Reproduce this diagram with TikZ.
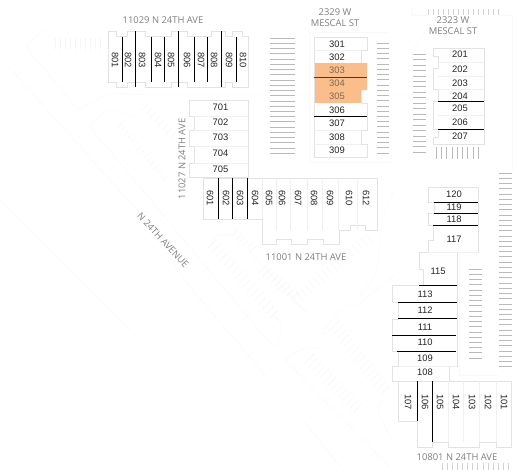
\documentclass[tikz,border=0pt]{standalone}
\usepackage{fontspec}
\setmainfont{Liberation Sans}
\newfontfamily\addrfont{Open Sans}
\newcommand{\lotstrip}[7]{%
  \foreach \i in {0,...,#5}{
    \pgfmathsetmacro{\px}{#1+(#3-#1)*\i/#5}
    \pgfmathsetmacro{\py}{#2+(#4-#2)*\i/#5}
    \draw[faintb] (\px,\py) -- +(#6,#7);
  }%
}
\tikzset{
  unitline/.style={draw=black!11,line width=0.6pt},
  unit/.style={font=\fontsize{9.4}{10}\selectfont,text=black!85,inner sep=0pt},
  vunit/.style={unit,rotate=-90},
  addr/.style={font=\addrfont\fontsize{9.4}{10}\selectfont,text=black!50,inner sep=0pt},
  sep/.style={draw=black,line width=0.7pt},
  lightsep/.style={draw=black!6,line width=0.5pt},
  hatch/.style={draw=black!27,line width=0.5pt},
  faint/.style={draw=black!2.5,line width=0.4pt},
  faintb/.style={draw=black!3.5,line width=0.4pt},
}
\begin{document}
\begin{tikzpicture}[x=1pt,y=-1pt]
\useasboundingbox (0,0) rectangle (518,474);
\fill[white] (0,0) rectangle (518,474);
% faint site lines
\draw[faint] (43,30) -- (26,47) -- (78,110) -- (110,93) -- (153,95) -- (470,95);
\draw[faint] (7,65) -- (137,210) -- (190,287) -- (267,377);
\draw[faint] (0,200) -- (130,330);
\draw[faint] (217,280) -- (273,347) .. controls (285,335) and (285,325) .. (273,315);
\draw[faint] (90,127) .. controls (98,118) and (105,110) .. (113,110) -- (133,117);
\draw[faint] (90,127) -- (217,280);
\draw[faint] (285,360) -- (390,467);
\draw[faint] (285,360) .. controls (295,350) and (305,347) .. (320,348);
\draw[faint] (303,420) -- (343,470);
\draw[faint] (323,330) -- (347,305) -- (357,305) -- (395,275);
\draw[faint] (323,330) .. controls (322,335) and (324,335) .. (330,330);
\draw[faint] (383,400) -- (378,405) -- (380,417) -- (392,440);
\draw[faint] (248,250) -- (307,313) -- (292,300) -- (303,290);
\draw[faint] (208,248) -- (218,235) -- (235,234);
\draw[faint] (395,190) .. controls (365,240) and (395,260) .. (360,295);
\draw[faint] (309,162) -- (309,32) -- (389,32);
\draw[faint] (309,162) -- (389,162);
\draw[faint] (412,50) -- (425,33);
\draw[faint] (412,8) -- (412,15) -- (428,15);
\draw[faint] (500,15) -- (512,15) -- (512,170);
\draw[faint] (459,252) -- (459,375) -- (498,375);
\lotstrip{122}{123}{167}{177}{14}{-4}{4}
\lotstrip{147}{105}{175}{133}{7}{-5}{5}
\lotstrip{55}{38}{100}{38}{9}{0}{11}
\lotstrip{208}{248}{270}{318}{16}{8}{-8}
\lotstrip{238}{230}{257}{245}{5}{-7}{7}
\lotstrip{267}{265}{298}{292}{8}{-8}{8}
\lotstrip{303}{300}{372}{242}{16}{-7}{-8}
\lotstrip{305}{363}{353}{413}{13}{9}{-9}
\lotstrip{330}{330}{380}{395}{15}{9}{-9}
% 800 block
\draw[unitline] (108,31) -- (116,31) -- (116,36.5) -- (127,36.5) -- (127,31) -- (145,31) -- (145,36.5) -- (171,36.5) -- (171,31) -- (187,31) -- (187,36.5) -- (211,36.5) -- (211,31) -- (225,31) -- (225,36.5) -- (232,36.5) -- (232,31) -- (242,31) -- (242,36.5) -- (248,36.5) -- (248,87) -- (232,87) -- (232,82) -- (225,82) -- (225,87) -- (187,87) -- (187,82) -- (171,82) -- (171,87) -- (145,87) -- (145,82) -- (127,82) -- (127,87) -- (116,87) -- (116,82) -- (108,82) -- cycle;
\foreach \x in {122,151,164,194,207,236} \draw[sep] (\x,36.5) -- (\x,82);
\foreach \x in {135,178,221} \draw[sep] (\x,31) -- (\x,87);
\foreach \n/\x in {801/115,802/128,803/142,804/158,805/171,806/187,807/201,808/214,809/229,810/243}
  \node[vunit] (u\n) at (\x,60) {\n};
% 700 block
\draw[unitline] (189,100) -- (248,100) -- (248,177) -- (189,177) -- (189,163) -- (194,163) -- (194,146) -- (189,146) -- (189,130) -- (194,130) -- (194,116) -- (189,116) -- cycle;
\foreach \y in {116,130,146,163} \draw[lightsep] (194,\y) -- (248,\y);
\foreach \n/\y in {701/107,702/122.5,703/137,704/153.5,705/169}
  \node[unit] (u\n) at (220.5,\y) {\n};
% 600 block
\draw[unitline] (203,178) -- (377,178) -- (377,230.5) -- (365.7,230.5) -- (365.7,225) -- (350.7,225) -- (350.7,230.5) -- (339,230.5) -- (339,244) -- (323,244) -- (323,239) -- (307,239) -- (307,244) -- (291,244) -- (291,239) -- (276,239) -- (276,244) -- (262,244) -- (262,219) -- (203,219) -- cycle;
\foreach \x in {276,290,307,322,338,357} \draw[lightsep] (\x,178) -- (\x,230);
\draw[lightsep] (262,178) -- (262,219);
\foreach \x in {218,232,247} \draw[sep] (\x,178) -- (\x,219);
\foreach \n/\x in {601/210,602/226,603/240,604/255,605/269,606/282,607/298,608/314,609/330,610/349,612/366}
  \node[vunit] (u\n) at (\x,198) {\n};
% 300 block
\definecolor{sel}{HTML}{F9BE8C}
\fill[sel] (314,63) -- (367,63) -- (367,90) -- (361,90) -- (361,103) -- (314,103) -- cycle;
\draw[unitline] (314,37) -- (367,37) -- (367,50.5) -- (361,50.5) -- (361,63);
\draw[unitline] (361,103) -- (367,103) -- (367,130) -- (361,130) -- (361,144) -- (367,144) -- (367,157) -- (314,157) -- (314,37);
\draw[unitline] (361,90) -- (361,103);
\foreach \y in {50.5,130,144} \draw[lightsep] (314,\y) -- (361,\y);
\draw[sep,draw=black!70!sel] (314,77) -- (367,77);
\draw[sep] (314,116.5) -- (367,116.5);
\foreach \n/\y in {301/44,302/57,306/110,307/123.5,308/137,309/150.5}
  \node[unit] (u\n) at (337,\y) {\n};
\foreach \n/\y in {303/70,304/83,305/96.5}
  \node[unit,text=black!40!sel!90!black] (u\n) at (337,\y) {\n};
% 200 block
\draw[unitline] (433,48) -- (484,48) -- (484,144) -- (433,144) -- (433,137) -- (438,137) -- (438,129) -- (433,129) -- (433,101) -- (438,101) -- (438,89) -- (433,89) -- (433,68) -- (438,68) -- (438,56) -- (433,56) -- cycle;
\foreach \y in {62.5,76.5,89,115} \draw[lightsep] (438,\y) -- (484,\y);
\foreach \y in {101,129} \draw[sep] (438,\y) -- (484,\y);
\foreach \n/\y in {201/54,202/69,203/83,204/96,205/108,206/122,207/136}
  \node[unit] (u\n) at (460,\y) {\n};
% 100 block upper
\draw[unitline] (428,187) -- (478,187) -- (478,252) -- (457,252) -- (457,366) -- (449,366) -- (449,381) -- (392,381) -- (392,366) -- (398,366) -- (398,351) -- (392,351) -- (392,319) -- (398,319) -- (398,302) -- (392,302) -- (392,285) -- (423,285) -- (423,269) -- (419,269) -- (419,252) -- (428,252) -- (428,240) -- (433,240) -- (433,225) -- (428,225) -- (428,213) -- (434,213) -- (434,202) -- (428,202) -- cycle;
\foreach \a/\b/\y in {434/478/202,434/478/213,433/478/225,419/457/285,398/457/302,398/457/318.5,392/456/335,397/456/351}
  \draw[sep] (\a,\y) -- (\b,\y);
\draw[lightsep] (428,252) -- (478,252);
\draw[lightsep] (398,366) -- (457,366);
\foreach \n/\y in {120/194,119/207.5,118/219.5,117/239}
  \node[unit] (u\n) at (454,\y) {\n};
\node[unit] (u115) at (438,271) {115};
\foreach \n/\y in {113/294,112/310,111/327,110/342.5,109/358.5,108/372.5}
  \node[unit] (u\n) at (425,\y) {\n};
% 100 block lower
\draw[unitline] (398,381) -- (511,381) -- (511,447) -- (496,447) -- (496,442) -- (479,442) -- (479,447) -- (448,447) -- (448,442) -- (432,442) -- (432,447) -- (417,447) -- (417,421) -- (398,421) -- cycle;
\foreach \x in {448,463,479,496} \draw[lightsep] (\x,381) -- (\x,442);
\draw[sep] (417,381) -- (417,421);
\draw[sep] (432,381) -- (432,442);
\foreach \n/\x in {107/408,106/425,105/440,104/456,103/472,102/488,101/504}
  \node[vunit] (u\n) at (\x,402) {\n};
% parking hatches
\foreach \i in {0,...,22} \draw[hatch] (270,{38+\i*5.23}) -- (295,{38+\i*5.23});
\foreach \i in {0,...,21} \draw[hatch] (377,{43+\i*5.23}) -- (389,{43+\i*5.23});
\foreach \i in {0,...,18} \draw[hatch] (413,{54+\i*5.45}) -- (426,{54+\i*5.45});
\foreach \i in {0,...,8} \draw[hatch] ({436+\i*5.25},147) -- ({436+\i*5.25},159);
\foreach \i in {0,...,14} \draw[hatch,draw=black!18] ({428+\i*5},9) -- ({428+\i*5},15);
\foreach \i in {0,...,17} \draw[hatch] (469,{269+\i*5.23}) -- (482,{269+\i*5.23});
\foreach \i in {0,...,37} \draw[hatch] (499,{173+\i*5.23}) -- (512,{173+\i*5.23});
\foreach \i in {0,...,13} \draw[hatch,draw=black!18] ({442+\i*5.1},463) -- ({442+\i*5.1},470);
% addresses
\node[addr] (a1) at (163,20) {11029 N 24TH AVE};
\node[addr,rotate=90] (a2) at (182,159) {11027 N 24TH AVE};
\node[addr] (a3) at (306,257) {11001 N 24TH AVE};
\node[addr,rotate=-47] (a4) at (163,240) {N 24TH AVENUE};
\node[addr] (a5) at (335,12) {2329 W};
\node[addr] (a6) at (335,23) {MESCAL ST};
\node[addr] (a7) at (453,20) {2323 W};
\node[addr] (a8) at (453,31) {MESCAL ST};
\node[addr] (a9) at (457,457.5) {10801 N 24TH AVE};
\end{tikzpicture}
\end{document}
